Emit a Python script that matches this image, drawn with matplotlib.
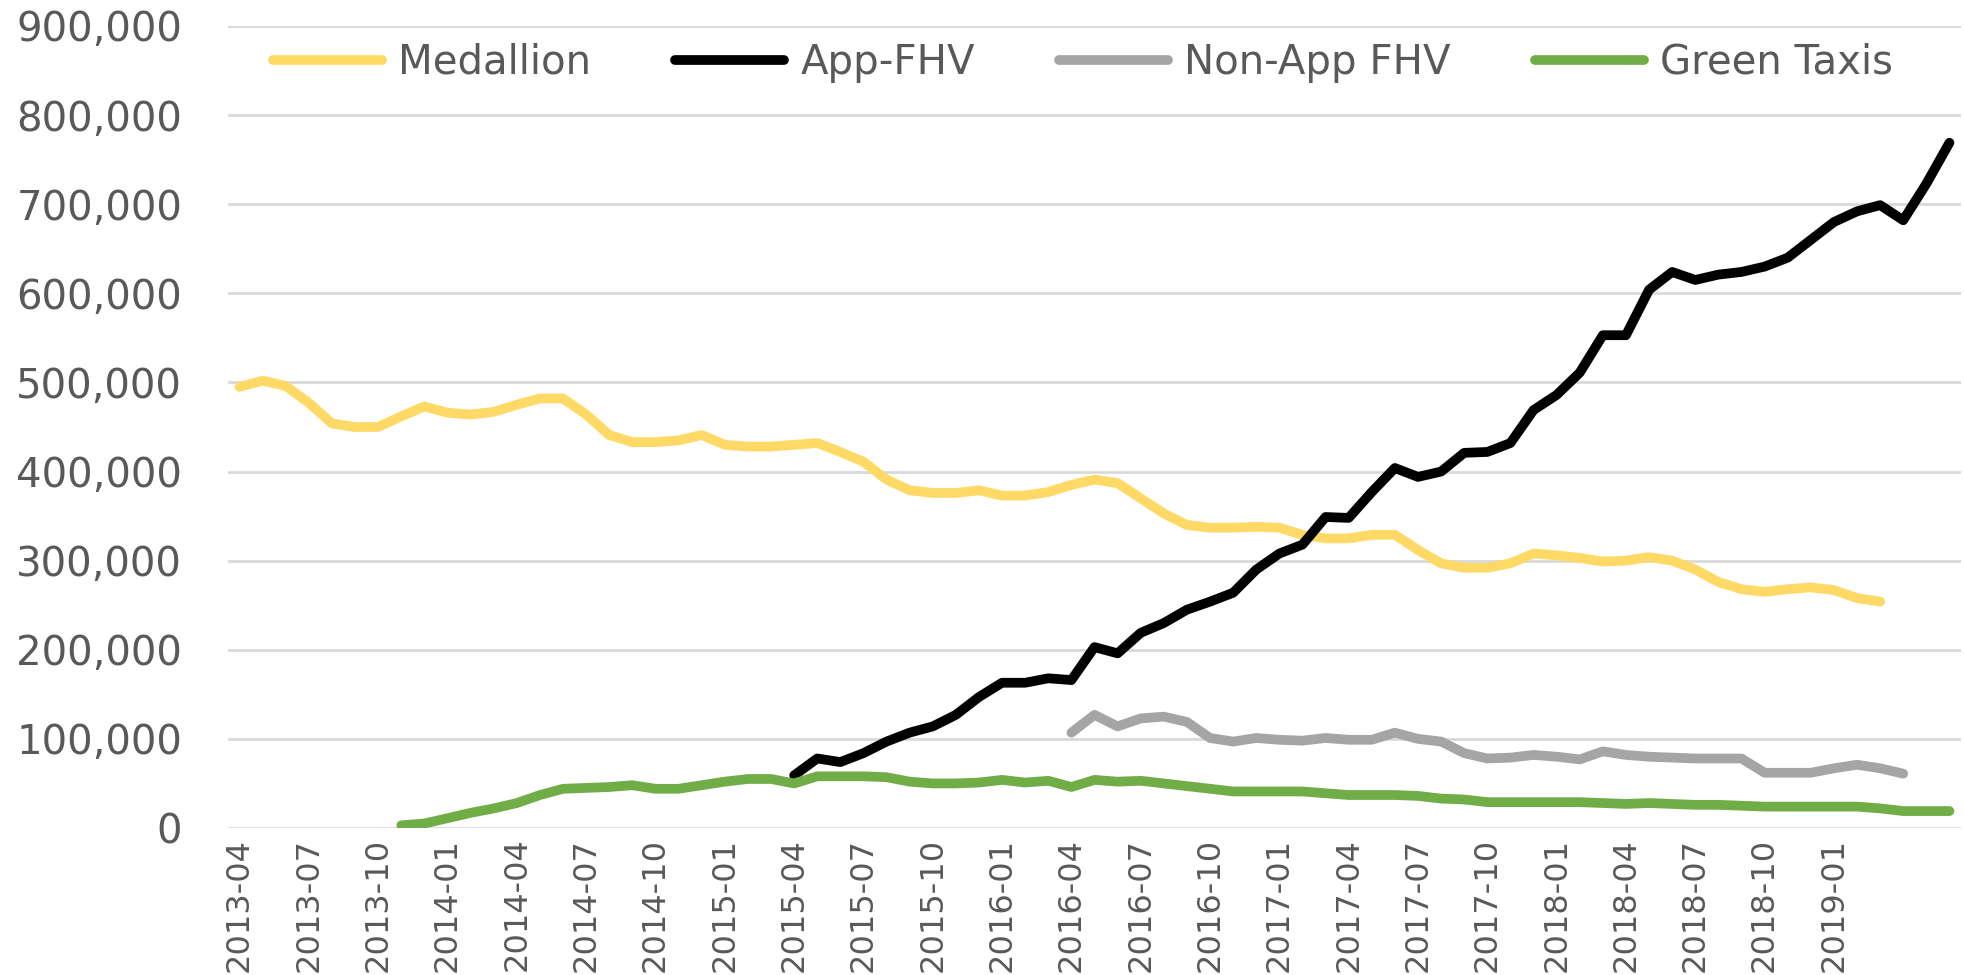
import matplotlib
matplotlib.use("Agg")
import matplotlib.pyplot as plt
import numpy as np
import pandas as pd

# ---- data ----
months = list(pd.period_range("2013-04", "2019-06", freq="M").strftime("%Y-%m"))
tick_labels = ["2013-04", "2013-07", "2013-10", "2014-01", "2014-04", "2014-07",
               "2014-10", "2015-01", "2015-04", "2015-07", "2015-10", "2016-01",
               "2016-04", "2016-07", "2016-10", "2017-01", "2017-04", "2017-07",
               "2017-10", "2018-01", "2018-04", "2018-07", "2018-10", "2019-01"]

medallion_start = "2013-04"
medallion = [495, 502, 496, 477, 454, 450, 450, 462, 473, 466, 464, 467, 475, 482,
             482, 464, 441, 433, 433, 435, 441, 430, 428, 428, 430, 432, 422, 411,
             391, 379, 376, 376, 379, 373, 373, 377, 385, 391, 387, 370, 353, 340,
             337, 337, 338, 337, 329, 325, 325, 329, 329, 312, 297, 292, 292, 297,
             308, 306, 303, 299, 300, 304, 300, 290, 276, 268, 265, 268, 270, 267,
             258, 254]

app_fhv_start = "2015-04"
app_fhv = [59, 78, 74, 84, 97, 107, 114, 127, 147, 163, 163, 168, 166, 203, 196,
           219, 230, 245, 254, 264, 290, 308, 318, 349, 348, 377, 404, 394, 400,
           421, 422, 432, 469, 486, 511, 553, 553, 604, 624, 615, 621, 624, 630,
           640, 660, 680, 692, 699, 682, 723, 769]

non_app_start = "2016-04"
non_app_fhv = [107, 127, 114, 123, 125, 119, 101, 97, 101, 99, 98, 101, 99, 99,
               107, 100, 97, 84, 78, 79, 82, 80, 77, 86, 82, 80, 79, 78, 78, 78,
               62, 62, 62, 67, 71, 67, 61]

green_start = "2013-11"
green_taxis = [3, 5, 11, 17, 22, 28, 37, 44, 45, 46, 48, 44, 44, 48, 52, 55, 55,
               50, 58, 58, 58, 57, 52, 50, 50, 51, 54, 51, 53, 46, 54, 52, 53, 50,
               47, 44, 41, 41, 41, 41, 39, 37, 37, 37, 36, 33, 32, 29, 29, 29, 29,
               29, 28, 27, 28, 27, 26, 26, 25, 24, 24, 24, 24, 24, 22, 19, 19, 19]

series = [
    ("Medallion", medallion_start, medallion, "#FFD966"),
    ("App-FHV", app_fhv_start, app_fhv, "#000000"),
    ("Non-App FHV", non_app_start, non_app_fhv, "#A5A5A5"),
    ("Green Taxis", green_start, green_taxis, "#70AD47"),
]

# ---- figure ----
W, H = 1965, 975
fig = plt.figure(figsize=(W / 100, H / 100), dpi=100)
ax = fig.add_axes([228 / W, 1 - 828 / H, (1961 - 228) / W, (828 - 26) / H])

label_color = "#595959"
for name, start, vals, color in series:
    i0 = months.index(start)
    x = np.arange(i0, i0 + len(vals))
    y = np.array(vals) * 1000
    ax.plot(x, y, color=color, lw=7, solid_joinstyle="round",
            solid_capstyle="round", label=name, zorder=3)

ax.set_xlim(-0.5, len(months) - 0.5)
ax.set_ylim(0, 900000)
ax.set_yticks(np.arange(0, 900001, 100000))
ax.set_yticklabels([f"{v:,}" for v in range(0, 900001, 100000)])
ax.set_xticks([months.index(t) for t in tick_labels])
ax.set_xticklabels(tick_labels, rotation=90)

ax.grid(axis="y", color="#D9D9D9", lw=2)
ax.set_axisbelow(True)
for s in ax.spines.values():
    s.set_visible(False)
ax.tick_params(axis="both", length=0, colors=label_color)
ax.tick_params(axis="y", labelsize=29, pad=33)
ax.tick_params(axis="x", labelsize=23, pad=7)

leg = fig.legend(loc="center left", bbox_to_anchor=(273 / W, 1 - 63 / H),
                 ncol=4, frameon=False, fontsize=29, handlelength=2.7,
                 handletextpad=0.4, columnspacing=2.1, borderpad=0,
                 borderaxespad=0)
for t in leg.get_texts():
    t.set_color(label_color)

fig.savefig("out.png", dpi=100)
